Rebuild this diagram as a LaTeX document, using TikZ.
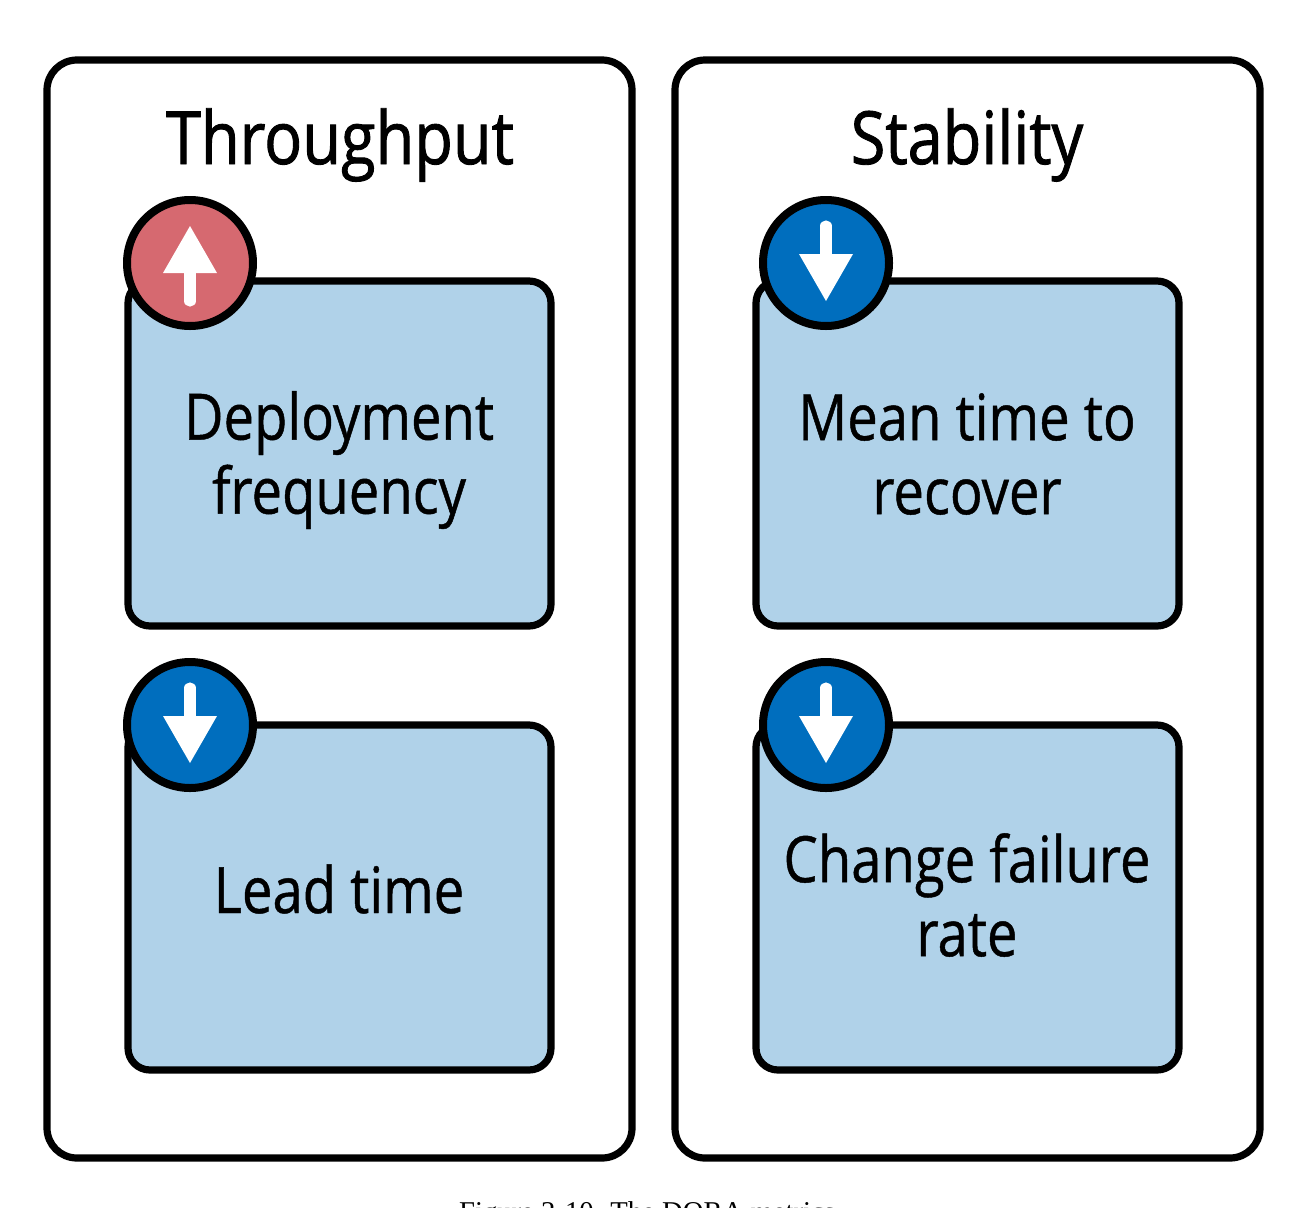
\documentclass[tikz,border=0pt]{standalone}
\usepackage{fontspec}
\setmainfont{Liberation Serif}
\newfontfamily\labelfont[FakeStretch=0.85,FakeBold=0.7]{Open Sans}
\newfontfamily\titlefont[FakeStretch=0.86,FakeBold=1.2]{Open Sans}
\usepackage{xcolor}
\definecolor{panelblue}{RGB}{176,210,233}
\definecolor{upred}{RGB}{214,105,112}
\definecolor{downblue}{RGB}{0,110,190}
\begin{document}
\begin{tikzpicture}[x=0.75pt,y=0.75pt,yscale=-1,xscale=1,
  group/.style={draw=black,line width=5.4pt,rounded corners=22.5pt,fill=white},
  metric/.style={draw=black,line width=5.4pt,rounded corners=16.5pt,fill=panelblue},
  badge/.style={draw=black,line width=6pt},
  title/.style={inner sep=0pt,align=center,font=\titlefont\fontsize{55}{60}\selectfont},
  metriclabel/.style={inner sep=0pt,align=center,font=\labelfont\fontsize{48}{55.5}\selectfont},
  stem/.style={draw=white,line width=8.4pt,line cap=round}]
\useasboundingbox (0,0) rectangle (1306,1207);
\clip (0,0) rectangle (1306,1207);

% Group boxes
\draw [group] (47,60) rectangle (632,1158);
\draw [group] (675,60) rectangle (1260,1158);

% Metric boxes
\draw [metric] (128,281) rectangle (551,626);
\draw [metric] (128,725) rectangle (551,1070);
\draw [metric] (756,281) rectangle (1179,626);
\draw [metric] (756,725) rectangle (1179,1070);

% Badge up
\draw [badge,fill=upred] (190,263) circle [radius=63];
\draw [stem] (190,273) -- (190,301);
\fill [white] (190,226) -- (217,273) -- (163,273) -- cycle;

% Badges down
\draw [badge,fill=downblue] (190,725) circle [radius=63];
\draw [stem] (190,688) -- (190,716);
\fill [white] (190,763) -- (217,716) -- (163,716) -- cycle;

\draw [badge,fill=downblue] (826,263) circle [radius=63];
\draw [stem] (826,226) -- (826,254);
\fill [white] (826,301) -- (853,254) -- (799,254) -- cycle;

\draw [badge,fill=downblue] (826,725) circle [radius=63];
\draw [stem] (826,688) -- (826,716);
\fill [white] (826,763) -- (853,716) -- (799,716) -- cycle;

% Text Node
\node (throughput) [title,anchor=base] at (340,164) {Throughput};
\node (stability) [title,anchor=base] at (967,164) {Stability};
\node (deploy) [metriclabel] at (339,460) {Deployment\\frequency};
\node (lead) [metriclabel] at (339,889) {Lead time};
\node (mttr) [metriclabel] at (967,454) {Mean time to\\recover};
\node (failure) [metriclabel] at (967,895) {Change failure\\rate};
\node (caption) [inner sep=0pt,anchor=base,font=\fontsize{21.5}{26}\selectfont] at (647,1221) {Figure 2-10. The DORA metrics};
\end{tikzpicture}
\end{document}
